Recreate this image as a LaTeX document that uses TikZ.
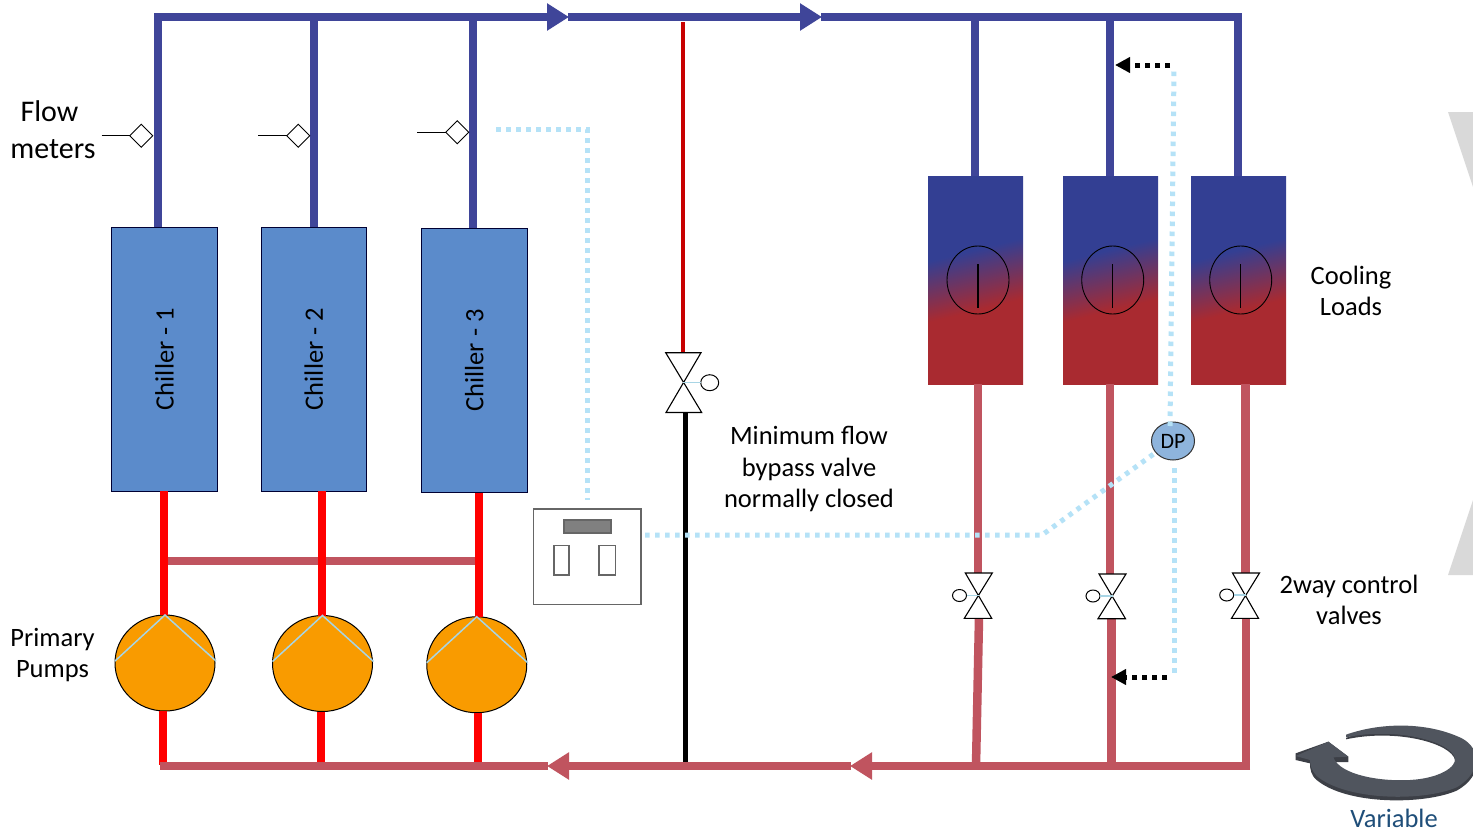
\documentclass[tikz,border=0pt]{standalone}
\usepackage{graphicx}
\usepackage{fontspec}
\setmainfont{Carlito}
\usetikzlibrary{arrows.meta,shapes.geometric,calc}
\definecolor{cold}{HTML}{3F4599}
\definecolor{hot}{HTML}{C0545F}
\definecolor{purered}{HTML}{FF0000}
\definecolor{bypassred}{HTML}{C80000}
\definecolor{sig}{HTML}{B5E2F7}
\definecolor{chillerblue}{HTML}{5B8BCB}
\definecolor{pumporange}{HTML}{F99B00}
\definecolor{stemblue}{HTML}{A8D5E5}
\definecolor{dpblue}{HTML}{8EB4DC}
\definecolor{loadblue}{HTML}{333F93}
\definecolor{loadred}{HTML}{A92A30}
\definecolor{varblue}{HTML}{1F4E79}
\definecolor{ghost}{HTML}{D9D9D9}
\definecolor{ringtop}{HTML}{50555E}
\definecolor{ringside}{HTML}{3C3F46}
\pgfdeclareverticalshading{loadshade}{100bp}{color(0bp)=(loadred); color(42bp)=(loadred); color(58bp)=(loadblue); color(100bp)=(loadblue)}
\tikzset{
  x=1pt,y=-1pt,
  coldpipe/.style={line width=8.5pt,color=cold},
  hotpipe/.style={line width=8.5pt,color=hot},
  redpipe/.style={line width=8.5pt,color=purered},
  signal/.style={line width=5pt,color=sig,dash pattern=on 4.5pt off 5.5pt},
  blackdots/.style={line width=5pt,black,dash pattern=on 5pt off 5pt,-{Triangle[length=15pt,width=15pt]}},
  bigtip/.style={-{Triangle[length=22pt,width=26pt]}},
  chiller/.style={draw=black!80!blue,line width=0.8pt,fill=chillerblue,inner sep=0pt,outer sep=0pt,font=\fontsize{26.5}{28}\selectfont},
  load/.style={inner sep=0pt,outer sep=0pt,shading=loadshade,shading angle=14,minimum width=95pt,minimum height=208pt},
  dial/.style={ellipse,draw=black,line width=0.9pt,minimum width=62pt,minimum height=68pt,inner sep=0pt,outer sep=0pt},
  pump/.style={ellipse,draw=black,line width=1pt,fill=pumporange,minimum width=100pt,minimum height=96pt,inner sep=0pt,outer sep=0pt},
  meter/.style={diamond,draw=black,line width=0.9pt,fill=white,minimum width=23pt,minimum height=23pt,inner sep=0pt,outer sep=0pt},
  label/.style={align=center,font=\fontsize{26.5}{31.5}\selectfont,inner sep=0pt},
  thin black/.style={draw=black,line width=1.1pt},
  actuator/.style={ellipse,draw=black,line width=1pt,fill=white,inner sep=0pt,outer sep=0pt},
  stem/.style={line width=1.5pt,color=stemblue},
  ctrl/.style={draw=black!60,line width=1.5pt,fill=white,inner sep=0pt,outer sep=0pt},
}
\newcommand{\valveshape}[9]{%
  \coordinate (#1) at (#2,#3);
  \filldraw[thin black,fill=white,line join=miter] (#4,#6) -- (#5,#6) -- (#7,#9) -- (#8,#9) -- cycle;
}
\begin{document}
\begin{tikzpicture}
\useasboundingbox (0,0) rectangle (1473,833);
\fill[white] (0,0) rectangle (1473,833);

% ghost shapes on the right edge
\fill[ghost] (1448,112) -- (1473,112) -- (1473,187) -- cycle;
\fill[ghost] (1448,575) -- (1473,575) -- (1473,500) -- cycle;

% equipment
\node[chiller,minimum width=106pt,minimum height=264pt] (ch1) at (164.5,359) {\rotatebox{90}{Chiller - 1}};
\node[chiller,minimum width=105.5pt,minimum height=264pt] (ch2) at (313.75,359) {\rotatebox{90}{Chiller - 2}};
\node[chiller,minimum width=105.5pt,minimum height=264pt] (ch3) at (474.25,360.5) {\rotatebox{90}{Chiller - 3}};
\node[load] (l1) at (975.5,280) {};
\node[load] (l2) at (1110.5,280) {};
\node[load] (l3) at (1238.5,280) {};
\node[dial] (d1) at (978,280) {};
\node[dial] (d2) at (1112.7,280) {};
\node[dial] (d3) at (1240.7,280) {};
\foreach \n in {1,2,3}{\draw[black,line width=1.1pt] (d\n.center) ++(0,-16) -- ++(0,44);}

% named pipe junctions
\coordinate (supL) at (154,17);
\coordinate (supT1) at (569,17);
\coordinate (supT2) at (822,17);
\coordinate (supR) at (1242,17);
\coordinate (retR) at (1250,766);
\coordinate (retT1) at (850,766);
\coordinate (retT2) at (547,766);
\coordinate (retL) at (160,766);

% supply header and branches
\draw[coldpipe] (158,13) -- (158,227);
\draw[coldpipe] (314,17) -- (314,227);
\draw[coldpipe] (473,17) -- (473,228);
\draw[coldpipe] (975,17) -- (975,176);
\draw[coldpipe] (1110,17) -- (1110,176);
\draw[coldpipe] (1238,13) -- (1238,176);
\draw[coldpipe,bigtip] (supL) -- (supT1);
\draw[coldpipe,bigtip] ($(supT1)+(-1,0)$) -- (supT2);
\draw[coldpipe] ($(supT2)+(-1,0)$) -- (supR);

% valves
\draw[line width=4pt,color=bypassred] (683,22) -- (683,353);
\draw[line width=5pt,black] (685.5,412) -- (685.5,763);
\draw[hotpipe] (978,384) -- (978,574);
\draw[hotpipe] (1110,384) -- (1110,575);
\draw[hotpipe] (1245.5,384) -- (1245.5,574);
\draw[hotpipe] (979,618) -- (976,766);
\draw[hotpipe] (1111.5,618) -- (1111.5,766);
\draw[hotpipe] (1245.75,618) -- (1245.75,766);

\valveshape{vb}{683.3}{382.7}{665.7}{701}{352.7}{666}{701.7}{412.5}
\node[actuator,minimum width=18pt,minimum height=16pt] (vba) at (709.7,382.7) {};
\draw[stem] (vb) -- (vba);
\valveshape{v1}{979}{595.5}{965.3}{992.3}{573}{964.3}{991.7}{618.3}
\node[actuator,minimum width=14pt,minimum height=12pt] (v1a) at (959.5,595.5) {};
\draw[stem] (v1a) -- (v1);
\valveshape{v2}{1112.5}{596}{1099}{1126}{574}{1098}{1125.5}{618.7}
\node[actuator,minimum width=14pt,minimum height=12pt] (v2a) at (1093,596) {};
\draw[stem] (v2a) -- (v2);
\valveshape{v3}{1246}{595}{1232.5}{1259.5}{573}{1231.5}{1258.5}{618.3}
\node[actuator,minimum width=14pt,minimum height=12pt] (v3a) at (1226.7,595) {};
\draw[stem] (v3a) -- (v3);

% primary circuit
\draw[line width=8pt,color=hot] (163,561) -- (476,561);
\node[pump] (p1) at (165,663) {};
\node[pump] (p2) at (322.5,663.5) {};
\node[pump] (p3) at (476.75,664.75) {};
\draw[redpipe] (164,491) -- (164,615);
\draw[redpipe] (322,491) -- (322,615.5);
\draw[redpipe] (479,492.5) -- (479,617);
\draw[redpipe] (163,711) -- (163,765);
\draw[redpipe] (321,711.5) -- (321,765);
\draw[redpipe] (478,713) -- (478,765);
\foreach \n in {1,2,3}{\draw[stem] ($(p\n.west)+(0,-2)$) -- (p\n.north) -- ($(p\n.east)+(1,-2)$);}

% return header
\draw[hotpipe,bigtip] (retR) -- (retT1);
\draw[hotpipe,bigtip] ($(retT1)+(1,0)$) -- (retT2);
\draw[hotpipe] ($(retT2)+(1,0)$) -- (retL);

% flow meters
\node[meter] (m1) at (141.25,135.7) {};
\node[meter] (m2) at (298.25,135.7) {};
\node[meter] (m3) at (457.25,132.3) {};
\coordinate (m1s) at (101.7,135.7);
\coordinate (m2s) at (258,135.7);
\coordinate (m3s) at (417.3,132.3);
\draw[thin black] (m1s) -- (m1.west);
\draw[thin black] (m2s) -- (m2.west);
\draw[thin black] (m3s) -- (m3.west);

% controller
\node[ctrl,minimum width=107.5pt,minimum height=95.5pt] (ctl) at (587.25,556.75) {};
\node[ctrl,fill=black!50,minimum width=47pt,minimum height=13pt] (ctlb) at (587.5,526.5) {};
\node[ctrl,minimum width=15pt,minimum height=29.5pt] (ctll) at (561.5,560.25) {};
\node[ctrl,minimum width=16.5pt,minimum height=29.5pt] (ctlr) at (607.25,560.25) {};

% DP sensor and signal lines
\node[ellipse,draw=black!80,line width=1pt,fill=dpblue,minimum width=43pt,minimum height=38pt,inner sep=0pt,font=\fontsize{22}{24}\selectfont] (dp) at (1173,441) {DP};
\coordinate (s1) at (496,129);
\coordinate (s2) at (587,129);
\coordinate (s2b) at (587,500);
\draw[signal] (s1) -- (s2) -- (s2b);
\coordinate (s3) at (1042,535);
\draw[signal] (645,535) -- (s3) -- (1155,453);
\draw[signal] (1170,426) -- (1174,70);
\draw[signal] (1174,468) -- (1174,677);
\coordinate (a1) at (1170,65);
\coordinate (a2) at (1115,65);
\coordinate (b1) at (1167,677);
\coordinate (b2) at (1111,677);
\draw[blackdots] (a1) -- (a2);
\draw[blackdots] (b1) -- (b2);

% variable arrow
\begin{scope}
\clip (1280,700) rectangle (1473,833);
\begin{scope}[shift={(1280,700)},x=0.3333pt,y=-0.3333pt]
  \fill[ringside] (198,114) .. controls (300,70) and (430,70) .. (530,112)
     .. controls (605,140) and (615,225) .. (530,272)
     .. controls (430,315) and (200,315) .. (110,240)
     .. controls (92,225) and (90,205) .. (90,190)
     -- (47,180) -- (47,160) -- (145,125) -- (205,170) -- (205,186) -- (160,186)
     .. controls (190,235) and (300,255) .. (390,250)
     .. controls (480,245) and (530,205) .. (525,180)
     .. controls (515,130) and (350,85) .. (198,118) -- cycle;
  \fill[ringtop] (198,104) .. controls (300,68) and (430,66) .. (530,108)
     .. controls (605,135) and (610,215) .. (530,262)
     .. controls (430,305) and (200,303) .. (110,228)
     .. controls (95,212) and (90,195) .. (90,180)
     -- (47,168) -- (145,125) -- (205,170) -- (160,172)
     .. controls (180,225) and (300,245) .. (390,240)
     .. controls (480,235) and (530,200) .. (525,175)
     .. controls (515,125) and (350,80) .. (198,112) -- cycle;
\end{scope}
\end{scope}

% labels
\node[label,font=\fontsize{30}{37}\selectfont] (tflow) at (53,129.5) {Flow\hspace*{7pt}\\meters};
\node[label] (tpump) at (52.5,655) {Primary\\Pumps};
\node[label] (tmin) at (809,469.5) {Minimum flow\\bypass valve\\normally closed};
\node[label] (tcool) at (1351,291) {Cooling\\Loads};
\node[label] (tway) at (1349,600) {2way control\\valves};
\node[label,text=varblue] (tvar) at (1394,818) {Variable};
\end{tikzpicture}
\end{document}
